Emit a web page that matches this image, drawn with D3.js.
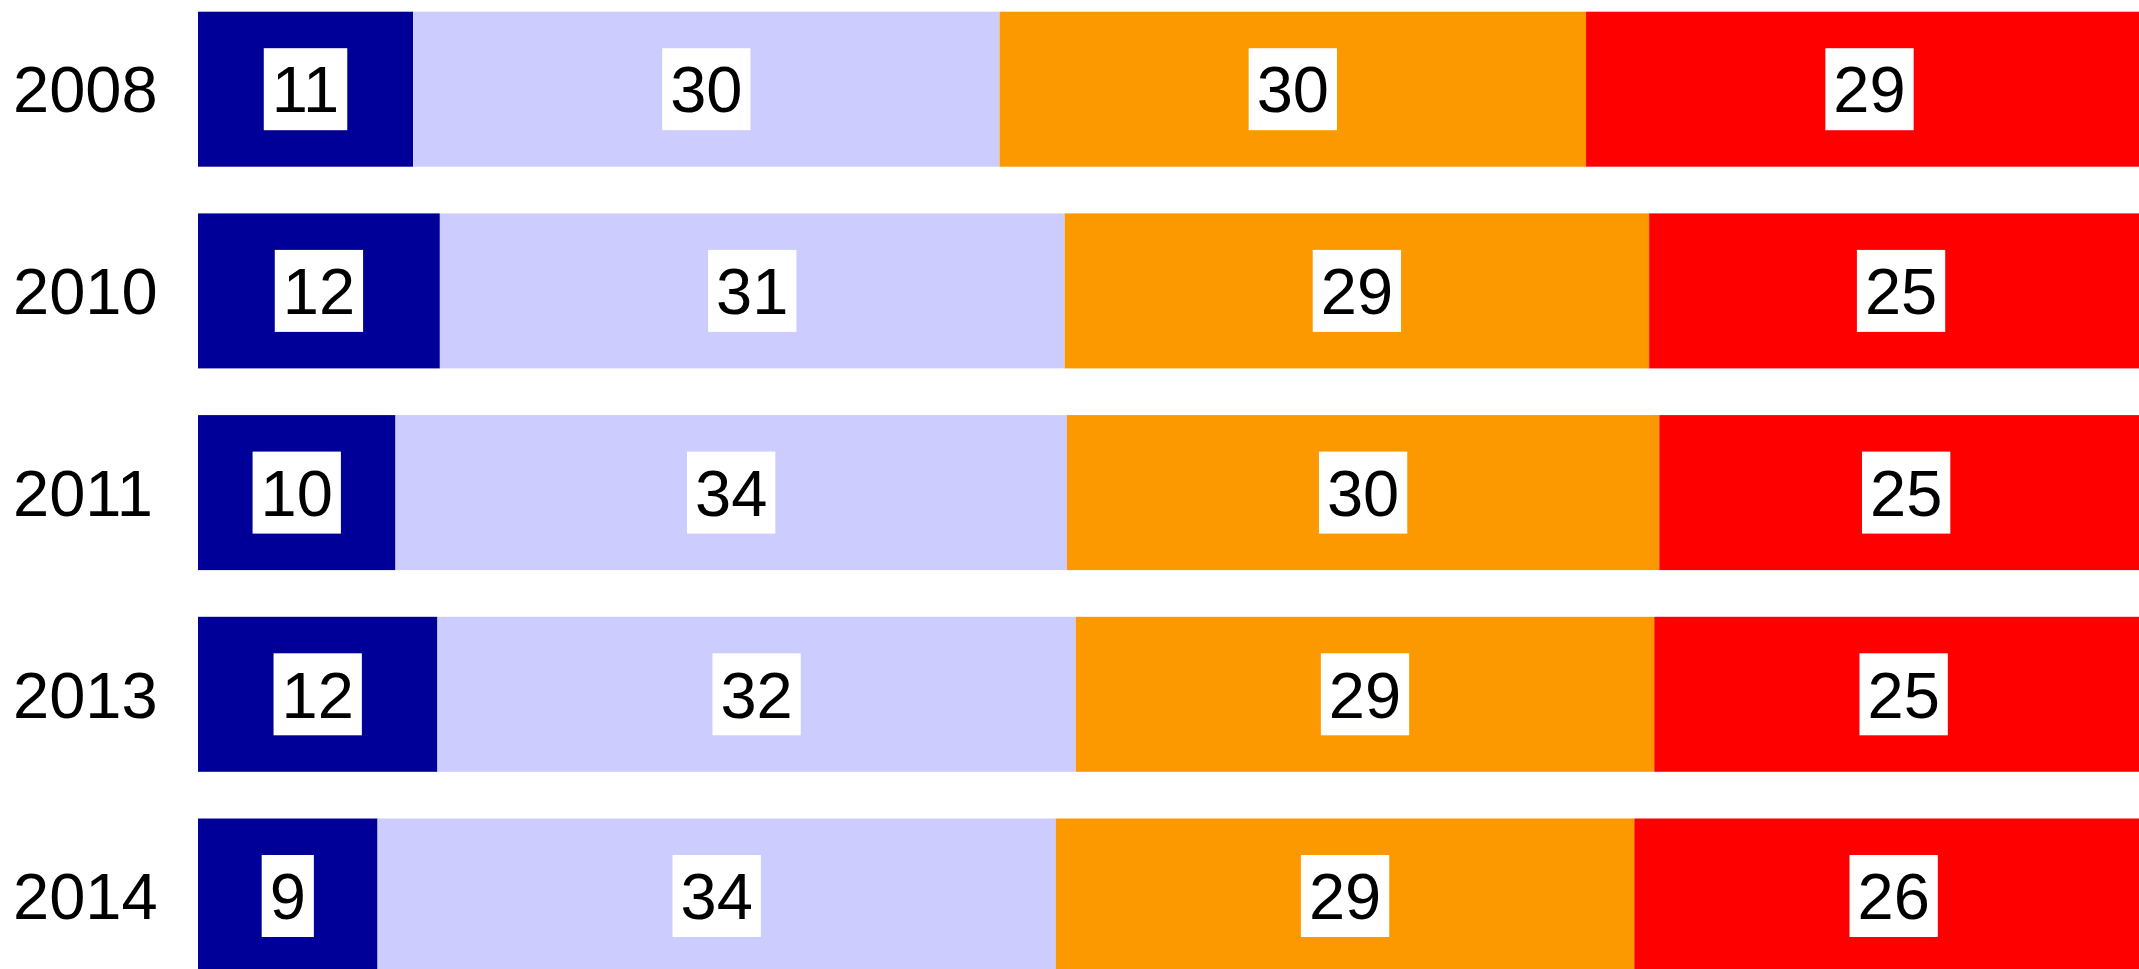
<!DOCTYPE html>
<html>
<head>
<meta charset="utf-8">
<script src="https://cdn.jsdelivr.net/npm/d3@7"></script>
<style>
  html, body { margin: 0; padding: 0; background: #fff; overflow: hidden; }
  text { font-family: "Liberation Sans", Arial, sans-serif; }
</style>
</head>
<body>
<svg id="chart"></svg>
<script>
// data
const years = ["2008", "2010", "2011", "2013", "2014"];
const groups = ["g1", "g2", "g3", "g4"];
const g1 = [11, 12, 10, 12, 9];
const g2 = [30, 31, 34, 32, 34];
const g3 = [30, 29, 30, 29, 29];
const g4 = [29, 25, 25, 25, 26];

const colors = ["#000099", "#CCCCFF", "#FC9900", "#FF0000"];

let width = 2139;
let height = 969;

let svg = d3.select("#chart")
    .attr("width", width)
    .attr("height", height);

// rows normalised to 100%
let rows = years.map((y, i) => {
    let vals = [g1[i], g2[i], g3[i], g4[i]];
    let total = d3.sum(vals);
    let row = { year: y };
    groups.forEach((g, j) => {
        row[g] = vals[j] / total * 100;
        row[g + "_raw"] = vals[j];
    });
    return row;
});

let stack = d3.stack().keys(groups);
let series = stack(rows);

let xScale = d3.scaleLinear()
    .domain([0, 100])
    .range([198, 2153]);

let yScale = d3.scaleBand()
    .domain(years)
    .range([11.7, 973.5])
    .paddingInner(0.2315)
    .paddingOuter(0);

let colorScale = d3.scaleOrdinal()
    .domain(groups)
    .range(colors);

let layers = svg.selectAll(".layer")
    .data(series)
    .enter()
    .append("g")
    .attr("class", "layer")
    .attr("fill", d => colorScale(d.key));

layers.selectAll("rect")
    .data(d => d.map(p => ({ key: d.key, p: p })))
    .enter()
    .append("rect")
    .attr("x", d => xScale(d.p[0]))
    .attr("y", d => yScale(d.p.data.year))
    .attr("width", d => xScale(d.p[1]) - xScale(d.p[0]))
    .attr("height", yScale.bandwidth());

// boxed value labels
let labels = svg.selectAll(".lab")
    .data(series.flatMap(s => s.map(p => ({ key: s.key, p: p }))))
    .enter()
    .append("g")
    .attr("class", "lab")
    .attr("transform", d => `translate(${(xScale(d.p[0]) + xScale(d.p[1])) / 2},${yScale(d.p.data.year) + yScale.bandwidth() / 2})`);

labels.append("rect").attr("fill", "#fff");

labels.append("text")
    .attr("text-anchor", "middle")
    .attr("dy", "0.358em")
    .attr("font-size", 65)
    .attr("fill", "#000")
    .text(d => d.p.data[d.key + "_raw"]);

labels.each(function() {
    let g = d3.select(this);
    let bb = g.select("text").node().getBBox();
    let w = bb.width + 16;
    let h = 82;
    g.select("rect")
        .attr("x", -w / 2)
        .attr("y", -h / 2)
        .attr("width", w)
        .attr("height", h);
});

// year labels on the left
let yAxis = d3.axisLeft(yScale).tickSize(0).tickPadding(0);
let ax = svg.append("g")
    .attr("id", "y-axis")
    .attr("transform", "translate(13,0)")
    .call(yAxis);

ax.select(".domain").remove();
ax.selectAll("text")
    .attr("text-anchor", "start")
    .attr("x", 0)
    .attr("dy", "0.358em")
    .attr("font-size", 65)
    .attr("font-family", "Liberation Sans, Arial, sans-serif")
    .attr("fill", "#000");
</script>
</body>
</html>
